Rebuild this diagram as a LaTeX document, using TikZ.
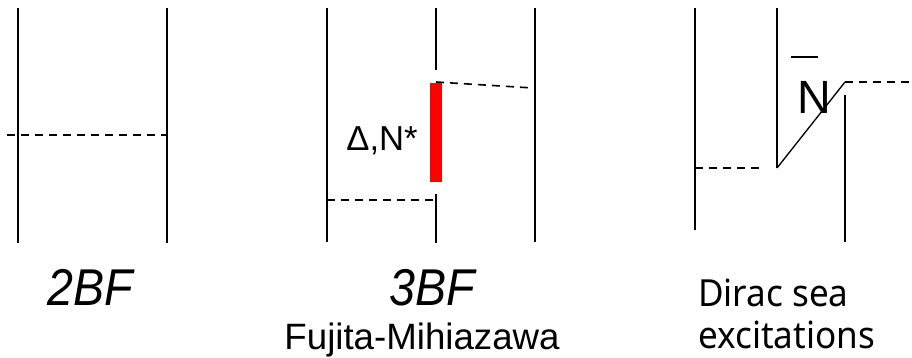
\documentclass[tikz,border=0pt]{standalone}
\usepackage{fontspec}
\setmainfont{Liberation Sans}
\newfontfamily\seafont[FakeStretch=0.94]{Noto Sans}
\newfontfamily\bffont[FakeStretch=0.9]{Liberation Sans}
\usepackage{xcolor}
\usetikzlibrary{positioning}
\begin{document}
\begin{tikzpicture}[x=0.75pt,y=-0.75pt,
      line/.style={draw=black, line width=1.4pt},
      thinline/.style={draw=black, line width=1pt},
      exch/.style={draw=black, line width=1.2pt, dash pattern=on 6pt off 4.5pt},
      lab/.style={font=\fontsize{27.5}{32}\selectfont, inner sep=0pt, anchor=base},
      bflab/.style={font=\fontsize{38.8}{42}\selectfont\bffont\itshape, inner sep=0pt, anchor=base}]
    \useasboundingbox (0,0) rectangle (912,357);
    % 2BF
    \coordinate (aT) at (18,8);   \coordinate (aB) at (18,243);
    \coordinate (bT) at (167,8);  \coordinate (bB) at (167,243);
    \coordinate (aL) at (7,135);  \coordinate (bL) at (167,135);
    \draw[line] (aT) -- (aB);
    \draw[line] (bT) -- (bB);
    \draw[exch] (aL) -- (bL);
    \node[bflab] (twobf) at (90,305) {2BF};
    % 3BF
    \coordinate (cT) at (327,8);  \coordinate (cB) at (327,242);
    \coordinate (dT) at (436,8);  \coordinate (dU) at (436,70);
    \coordinate (dL) at (436,194); \coordinate (dB) at (436,243);
    \coordinate (eT) at (535,8);  \coordinate (eB) at (535,242);
    \draw[line] (cT) -- (cB);
    \draw[line] (dT) -- (dU);
    \draw[line] (dL) -- (dB);
    \draw[line] (eT) -- (eB);
    \node[fill=red, minimum width=9pt, minimum height=74.3pt, inner sep=0pt] (res) at (436,132.5) {};
    \coordinate (resT) at (436,82); \coordinate (eV) at (533,88);
    \coordinate (cV) at (327,200);  \coordinate (dV) at (434,200);
    \draw[exch] (resT) -- (eV);
    \draw[exch] (cV) -- (dV);
    \node[lab, font=\fontsize{26}{30}\selectfont] (reslab) at (382,150) {Δ,N*};
    \node[bflab] (threebf) at (432,305) {3BF};
    \node[lab] (fm) at (422,349) {Fujita-Mihiazawa};
    % Dirac sea
    \coordinate (fT) at (695,8);  \coordinate (fB) at (695,230);
    \coordinate (gT) at (777,8);  \coordinate (gV) at (777,168);
    \coordinate (hV) at (845,82); \coordinate (hT) at (845,95);
    \coordinate (hB) at (845,242);
    \coordinate (fV) at (695,168); \coordinate (gL) at (760,168);
    \coordinate (hR) at (910,82);
    \draw[line] (fT) -- (fB);
    \draw[line] (gT) -- (gV);
    \draw[thinline] (gV) -- (hV);
    \draw[line] (hT) -- (hB);
    \draw[exch] (fV) -- (gL);
    \draw[exch] (hV) -- (hR);
    \node[lab, font=\fontsize{35}{40}\selectfont] (nbar) at (814,113) {N};
    \coordinate (barL) at (791,57); \coordinate (barR) at (818,57);
    \draw[thinline] (barL) -- (barR);
    \node[lab, anchor=base west, font=\fontsize{28}{32}\selectfont\seafont] (dirac) at (698,306) {Dirac sea};
    \node[lab, anchor=base west, font=\fontsize{28}{32}\selectfont\seafont] (excit) at (698,348) {excitations};
  \end{tikzpicture}
\end{document}
